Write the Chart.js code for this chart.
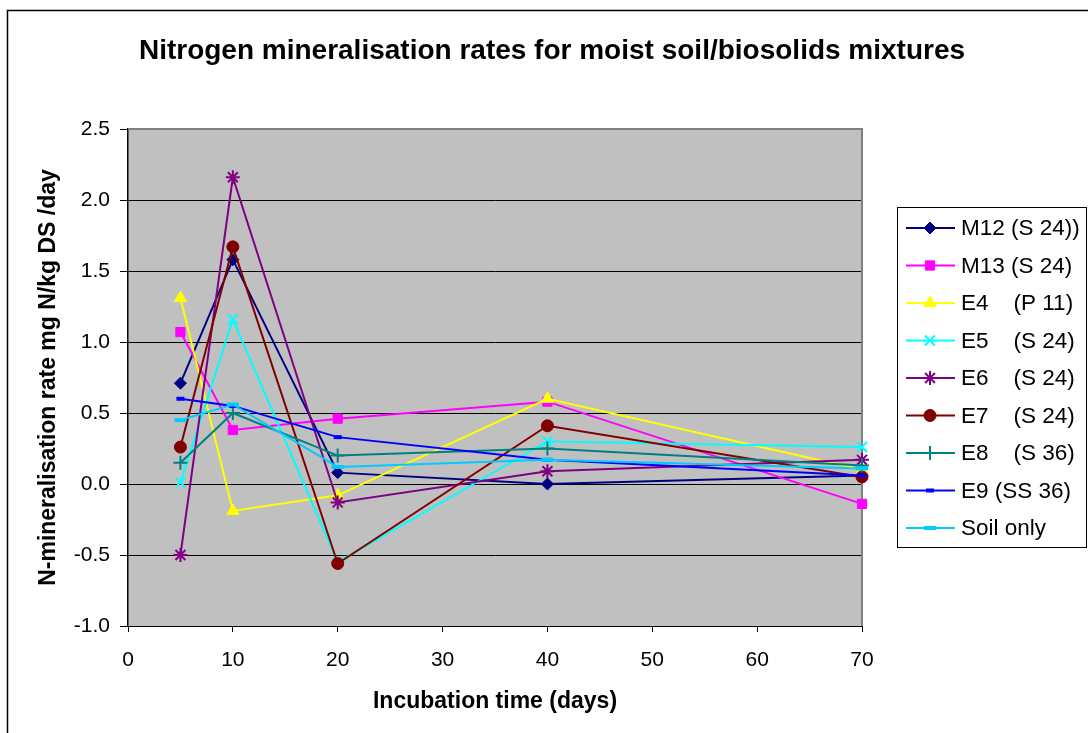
<!DOCTYPE html>
<html>
<head>
<meta charset="utf-8">
<script src="https://cdn.jsdelivr.net/npm/chart.js@4/dist/chart.umd.min.js"></script>
<style>
  html, body { margin: 0; padding: 0; background: #fff; }
  canvas { display: block; }
</style>
</head>
<body>
<canvas id="chart" width="1088" height="733"></canvas>
<script>
// incubation time (days)
const days = [5, 10, 20, 40, 70];

// N-mineralisation rate mg N/kg DS /day
const m12 = [0.71, 1.58, 0.08, 0.00, 0.06];
const m13 = [1.07, 0.38, 0.46, 0.58, -0.14];
const e4 = [1.31, -0.19, -0.08, 0.60, 0.10];
const e5 = [0.01, 1.16, -0.55, 0.30, 0.26];
const e6 = [-0.50, 2.16, -0.13, 0.09, 0.17];
const e7 = [0.26, 1.67, -0.56, 0.41, 0.05];
const e8 = [0.15, 0.50, 0.20, 0.25, 0.13];
const e9 = [0.60, 0.55, 0.33, 0.17, 0.06];
const soilOnly = [0.45, 0.56, 0.12, 0.17, 0.11];

const seriesNames = [
    'M12 (S 24))',
    'M13 (S 24)',
    'E4    (P 11)',
    'E5    (S 24)',
    'E6    (S 24)',
    'E7    (S 24)',
    'E8    (S 36)',
    'E9 (SS 36)',
    'Soil only',
];
const seriesValues = [m12, m13, e4, e5, e6, e7, e8, e9, soilOnly];

const yTicks = [-1.0, -0.5, 0.0, 0.5, 1.0, 1.5, 2.0, 2.5];
const xTicks = [0, 10, 20, 30, 40, 50, 60, 70];

// marker look for each series (Excel default style)
const styles = [
    { color: '#000080', point: 'rectRot', radius: 6, bw: 1 },
    { color: '#FF00FF', point: 'rect', radius: 6.5, bw: 1 },
    { color: '#FFFF00', point: 'triangle', radius: 7, bw: 1 },
    { color: '#00FFFF', point: 'crossRot', radius: 7, bw: 2 },
    { color: '#800080', point: 'star', radius: 7, bw: 2 },
    { color: '#800000', point: 'circle', radius: 6, bw: 1 },
    { color: '#008080', point: 'cross', radius: 7, bw: 2 },
    { color: '#0000FF', point: 'line', radius: 4, bw: 4 },
    { color: '#00CCFF', point: 'line', radius: 6, bw: 4 },
];

const font = 'Arial, "Liberation Sans", sans-serif';

const datasets = seriesValues.map((vals, i) => ({
    label: seriesNames[i],
    data: vals.map((v, j) => ({ x: days[j], y: v })),
    borderColor: styles[i].color,
    backgroundColor: styles[i].color,
    borderWidth: 2,
    pointStyle: styles[i].point,
    pointRadius: styles[i].radius,
    pointBorderWidth: styles[i].bw,
    pointBackgroundColor: styles[i].color,
    pointBorderColor: styles[i].color,
    tension: 0,
    clip: false,
    order: seriesValues.length - i,
}));

// gray plot area, gray top/right frame, outer chart border, title
const frame = {
    id: 'frame',
    beforeDraw(chart) {
        const { ctx, chartArea: a } = chart;
        ctx.save();
        ctx.fillStyle = '#fff';
        ctx.fillRect(0, 0, chart.width, chart.height);
        ctx.fillStyle = '#C0C0C0';
        ctx.fillRect(a.left, a.top, a.right - a.left, a.bottom - a.top);

        ctx.strokeStyle = '#000';
        ctx.lineWidth = 1.5;
        ctx.beginPath();
        ctx.moveTo(7.5, chart.height);
        ctx.lineTo(7.5, 10.5);
        ctx.lineTo(chart.width, 10.5);
        ctx.stroke();

        ctx.fillStyle = '#000';
        ctx.font = 'bold 28px ' + font;
        ctx.textAlign = 'center';
        ctx.textBaseline = 'middle';
        ctx.fillText('Nitrogen mineralisation rates for moist soil/biosolids mixtures', 552, 51);
        ctx.restore();
    },
    beforeDatasetsDraw(chart) {
        const { ctx, chartArea: a } = chart;
        ctx.save();
        ctx.strokeStyle = '#808080';
        ctx.lineWidth = 2;
        ctx.beginPath();
        ctx.moveTo(a.left, a.top);
        ctx.lineTo(a.right, a.top);
        ctx.lineTo(a.right, a.bottom);
        ctx.stroke();
        ctx.restore();
    },
};

// boxed legend on the right, line + marker like Excel
const boxLegend = {
    id: 'boxLegend',
    afterDraw(chart) {
        const { ctx } = chart;
        const left = 897, top = 207, right = 1086, bottom = 547;
        ctx.save();
        ctx.strokeStyle = '#000';
        ctx.lineWidth = 1;
        ctx.strokeRect(left + 0.5, top + 0.5, right - left, bottom - top);
        ctx.font = '22.5px ' + font;
        ctx.textAlign = 'left';
        ctx.textBaseline = 'middle';
        chart.data.datasets.forEach((ds, i) => {
            const y = 228 + i * 37.5;
            ctx.strokeStyle = ds.borderColor;
            ctx.lineWidth = 2;
            ctx.beginPath();
            ctx.moveTo(906, y);
            ctx.lineTo(955, y);
            ctx.stroke();
            ctx.fillStyle = ds.pointBackgroundColor;
            ctx.strokeStyle = ds.pointBorderColor;
            ctx.lineWidth = ds.pointBorderWidth;
            Chart.helpers.drawPoint(ctx, {
                pointStyle: ds.pointStyle,
                radius: ds.pointRadius,
                borderWidth: ds.pointBorderWidth,
                rotation: 0,
            }, 930, y);
            ctx.fillStyle = '#000';
            ctx.fillText(ds.label, 961, y + 1);
        });
        ctx.restore();
    },
};

new Chart(document.getElementById('chart'), {
    type: 'line',
    data: { datasets },
    plugins: [frame, boxLegend],
    options: {
        responsive: false,
        animation: false,
        devicePixelRatio: 1,
        layout: { padding: { left: 8, top: 129, right: 226, bottom: 0 } },
        plugins: {
            legend: { display: false },
            title: { display: false },
            tooltip: { enabled: false },
        },
        scales: {
            x: {
                type: 'linear',
                min: 0,
                max: 70,
                afterBuildTicks: s => { s.ticks = xTicks.map(v => ({ value: v })); },
                afterFit: s => { s.height = 107; },
                ticks: { color: '#000', font: { family: font, size: 21 }, padding: 16, maxRotation: 0 },
                grid: { drawOnChartArea: false, drawTicks: true, tickLength: 6, color: '#000' },
                border: { color: '#000', width: 1 },
                title: {
                    display: true,
                    text: 'Incubation time (days)',
                    color: '#000',
                    font: { family: font, size: 23, weight: 'bold' },
                    padding: { top: 0, bottom: 18 },
                },
            },
            y: {
                min: -1,
                max: 2.5,
                afterBuildTicks: s => { s.ticks = yTicks.map(v => ({ value: v })); },
                afterFit: s => { s.width = 120; },
                ticks: {
                    color: '#000',
                    font: { family: font, size: 21 },
                    padding: 10,
                    callback: v => Number(v).toFixed(1),
                },
                grid: { color: '#000', lineWidth: 1, tickLength: 8 },
                border: { color: '#000', width: 1.5 },
                title: {
                    display: true,
                    text: 'N-mineralisation rate mg N/kg DS /day',
                    color: '#000',
                    font: { family: font, size: 23, weight: 'bold' },
                    padding: { top: 27, bottom: 0 },
                },
            },
        },
    },
});
</script>
</body>
</html>
